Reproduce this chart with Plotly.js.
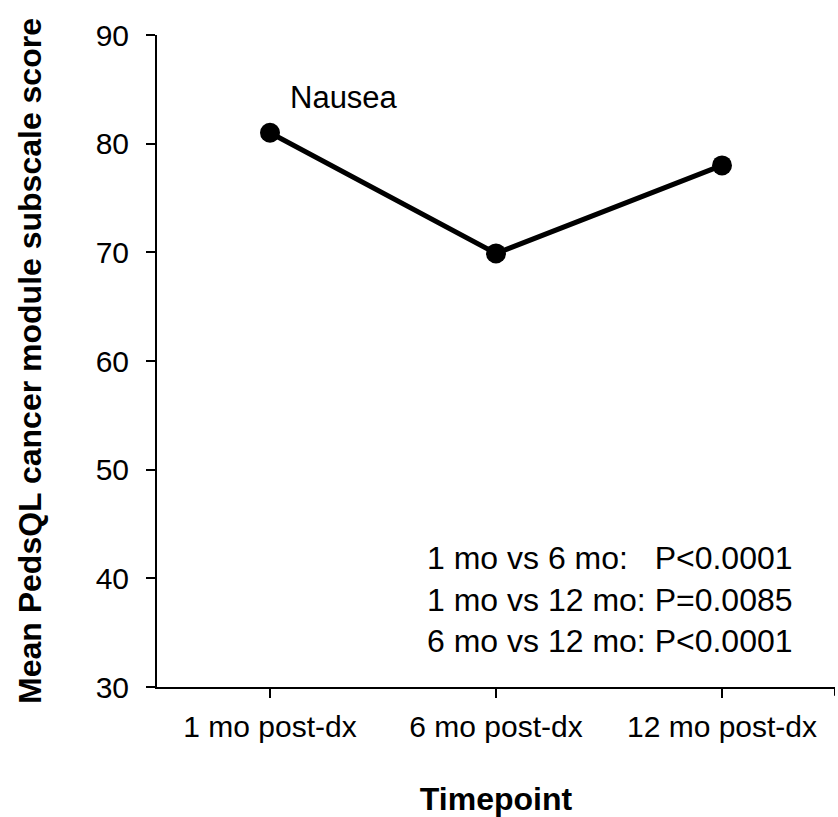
<!DOCTYPE html>
<html><head><meta charset="utf-8">
<script src="https://cdn.plot.ly/plotly-3.0.1.min.js"></script>
<style>html,body{margin:0;padding:0;background:#fff}</style>
</head><body>
<div id="chart" style="width:838px;height:817px"></div>
<script>
const categories = ["1 mo post-dx", "6 mo post-dx", "12 mo post-dx"];
const nauseaScores = [81, 69.9, 78];
const yTicks = [30, 40, 50, 60, 70, 80, 90];
const seriesLabel = "Nausea";
const pValueLines = ["1 mo vs 6 mo:   P<0.0001", "1 mo vs 12 mo: P=0.0085", "6 mo vs 12 mo: P<0.0001"];

const F = "Liberation Sans, Arial, sans-serif";
const trace = {
  x: categories, y: nauseaScores, type: "scatter", mode: "lines+markers",
  line: {color: "#000", width: 5},
  marker: {color: "#000", size: 20},
  showlegend: false, hoverinfo: "none"
};
const layout = {
  width: 838, height: 817,
  margin: {l: 157, r: 3, t: 35, b: 130},
  paper_bgcolor: "#fff", plot_bgcolor: "#fff",
  font: {family: F, color: "#000"},
  xaxis: {
    type: "category", range: [-0.5, 2.5], showgrid: false, zeroline: false,
    showline: true, linecolor: "#000", linewidth: 2,
    ticks: "outside", ticklen: 9, tickwidth: 2, tickcolor: "#000",
    tickfont: {size: 30, family: F}, ticklabelstandoff: 3,
    title: {text: "<b>Timepoint</b>", font: {size: 32, family: F}, standoff: 46}
  },
  yaxis: {
    range: [30, 90], tickvals: yTicks, showgrid: false, zeroline: false,
    showline: true, linecolor: "#000", linewidth: 2,
    ticks: "outside", ticklen: 9, tickwidth: 2, tickcolor: "#000",
    tickfont: {size: 30, family: F}, ticklabelstandoff: 11,
    title: {text: "<b>Mean PedsQL cancer module subscale score</b>", font: {size: 32, family: F}, standoff: 44}
  },
  shapes: [{type: "line", xref: "x", yref: "paper", x0: 2.5, x1: 2.5, y0: 0, y1: -0.0135,
            line: {color: "#000", width: 2}}],
  annotations: [
    {x: categories[0], y: nauseaScores[0], xref: "x", yref: "y", text: seriesLabel,
     showarrow: false, xanchor: "left", yanchor: "middle", xshift: 18, yshift: 35,
     font: {size: 31, family: F}},
    {x: 0.941, y: 0.2285, xref: "paper", yref: "paper", text: pValueLines.join("<br>"),
     showarrow: false, xanchor: "right", yanchor: "top", align: "left",
     font: {size: 32, family: F}}
  ]
};
Plotly.newPlot("chart", [trace], layout, {displayModeBar: false, staticPlot: true});
</script>
</body></html>
